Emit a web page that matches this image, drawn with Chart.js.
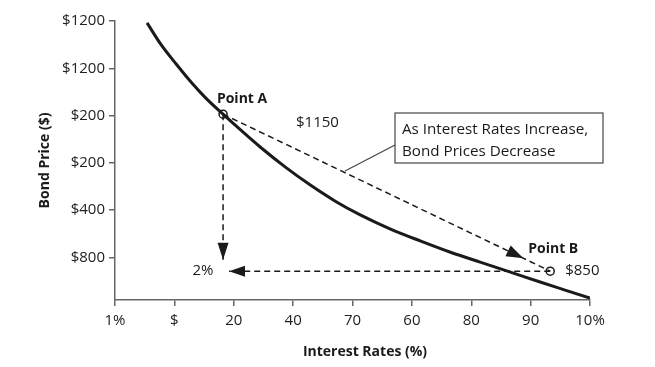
<!DOCTYPE html>
<html>
<head>
<meta charset="utf-8">
<script src="https://cdn.jsdelivr.net/npm/chart.js@4"></script>
<style>
  html, body { margin: 0; padding: 0; background: #fff; }
  #wrap { width: 655px; height: 367px; }
</style>
</head>
<body>
<div id="wrap"><canvas id="bondChart" width="655" height="367"></canvas></div>
<script>
// tick labels as printed on the figure
const xTickLabels = ['1%', '$', '20', '40', '70', '60', '80', '90', '10%'];
const yTickLabels = ['$800', '$400', '$200', '$200', '$1200', '$1200']; // bottom -> top

// price curve (x = tick index, y = tick index)
const rateValues  = [0.54, 0.77, 1.03, 1.28, 1.53, 1.82, 2.12, 2.45, 2.87, 3.29, 3.71, 4.13, 4.64, 5.14, 5.65, 6.15, 6.66, 7.16, 7.58, 8.0];
const priceValues = [5.96, 5.51, 5.09, 4.71, 4.37, 4.03, 3.69, 3.33, 2.91, 2.53, 2.19, 1.90, 1.60, 1.35, 1.11, 0.90, 0.69, 0.48, 0.31, 0.14];

const pointA = { x: 1.82, y: 4.03 };
const pointB = { x: 7.33, y: 0.71 };
const dropEnd = { x: 1.82, y: 0.95 };   // vertical arrow tip below A
const leftEnd = { x: 1.92, y: 0.71 };   // horizontal arrow tip left of B

const ink = '#1a1a1a';
const axisGray = '#666';

const curve = rateValues.map((x, i) => ({ x: x, y: priceValues[i] }));

function arrowHead(ctx, tipX, tipY, fromX, fromY, len, half) {
    const ang = Math.atan2(tipY - fromY, tipX - fromX);
    ctx.save();
    ctx.translate(tipX, tipY);
    ctx.rotate(ang);
    ctx.beginPath();
    ctx.moveTo(0, 0);
    ctx.lineTo(-len, -half);
    ctx.lineTo(-len, half);
    ctx.closePath();
    ctx.fillStyle = ink;
    ctx.fill();
    ctx.restore();
}

const notes = {
    id: 'notes',
    afterDatasetsDraw(chart) {
        const ctx = chart.ctx;
        const xs = chart.scales.x, ys = chart.scales.y;
        const px = p => ({ x: xs.getPixelForValue(p.x), y: ys.getPixelForValue(p.y) });
        const a = px(pointA), b = px(pointB), d = px(dropEnd), l = px(leftEnd);

        // arrow heads
        arrowHead(ctx, d.x, d.y, a.x, a.y, 17, 5.5);
        arrowHead(ctx, l.x, l.y, b.x, b.y, 16, 5.5);
        const t = 0.918;
        arrowHead(ctx, a.x + (b.x - a.x) * t, a.y + (b.y - a.y) * t, a.x, a.y, 17, 6);

        ctx.save();
        ctx.fillStyle = ink;
        ctx.textBaseline = 'middle';

        ctx.font = 'bold 14px "Open Sans"';
        ctx.textAlign = 'center';
        ctx.fillText('Point A', a.x + 19, a.y - 15);
        ctx.fillText('Point B', b.x + 3, b.y - 22);

        ctx.font = '15px "Open Sans"';
        ctx.fillText('$1150', xs.getPixelForValue(3.41), ys.getPixelForValue(3.84));
        ctx.fillText('2%', l.x - 26, l.y);
        ctx.textAlign = 'left';
        ctx.fillText('$850', b.x + 15, b.y);

        // callout box
        const bx = 395, by = 113, bw = 208, bh = 50;
        ctx.strokeStyle = '#444';
        ctx.lineWidth = 1.2;
        ctx.strokeRect(bx, by, bw, bh);
        ctx.beginPath();
        ctx.moveTo(bx, 145);
        ctx.lineTo(345, 171);
        ctx.stroke();
        ctx.font = '15.2px "Open Sans"';
        ctx.fillText('As Interest Rates Increase,', bx + 7, by + 17);
        ctx.fillText('Bond Prices Decrease', bx + 7, by + 39);

        // x axis title
        ctx.font = 'bold 14px "Open Sans"';
        ctx.textAlign = 'center';
        ctx.fillText('Interest Rates (%)', 365, 352);
        ctx.restore();
    }
};

const dashed = { borderColor: ink, borderWidth: 1.5, borderDash: [6, 4], pointRadius: 0, fill: false };

new Chart(document.getElementById('bondChart').getContext('2d'), {
    type: 'scatter',
    data: {
        datasets: [
            Object.assign({ data: [pointA, dropEnd], showLine: true }, dashed),
            Object.assign({ data: [pointB, leftEnd], showLine: true }, dashed),
            Object.assign({ data: [pointA, pointB], showLine: true }, dashed),
            {
                data: curve,
                showLine: true,
                borderColor: ink,
                borderWidth: 3,
                pointRadius: 0,
                cubicInterpolationMode: 'monotone'
            },
            {
                data: [pointA, pointB],
                pointRadius: 4,
                pointBackgroundColor: '#fff',
                pointBorderColor: ink,
                pointBorderWidth: 1.5
            }
        ]
    },
    options: {
        responsive: false,
        animation: false,
        layout: { padding: { left: 0, top: 21, right: 65, bottom: 0 } },
        plugins: {
            legend: { display: false },
            tooltip: { enabled: false }
        },
        scales: {
            x: {
                type: 'linear',
                min: 0,
                max: 8,
                afterFit: s => { s.height = 67; },
                border: { color: axisGray, width: 1.5 },
                grid: { drawOnChartArea: false, color: axisGray, tickLength: 6, lineWidth: 1.5 },
                ticks: {
                    stepSize: 1,
                    color: '#222',
                    padding: 6,
                    font: { family: 'Open Sans', size: 15 },
                    callback: v => xTickLabels[v]
                }
            },
            y: {
                min: 0.1,
                max: 6,
                afterFit: s => { s.width = 115; },
                afterBuildTicks: s => { s.ticks = [1, 2, 3, 4, 5, 6].map(v => ({ value: v })); },
                border: { color: axisGray, width: 1.5 },
                grid: { drawOnChartArea: false, color: axisGray, tickLength: 6, lineWidth: 1.5 },
                ticks: {
                    color: '#222',
                    padding: 4,
                    font: { family: 'Open Sans', size: 15 },
                    callback: v => yTickLabels[v - 1]
                },
                title: {
                    display: true,
                    text: 'Bond Price ($)',
                    color: ink,
                    font: { family: 'Open Sans', size: 14, weight: 'bold' },
                    padding: { top: 37, bottom: 0 }
                }
            }
        }
    },
    plugins: [notes]
});
</script>
</body>
</html>
